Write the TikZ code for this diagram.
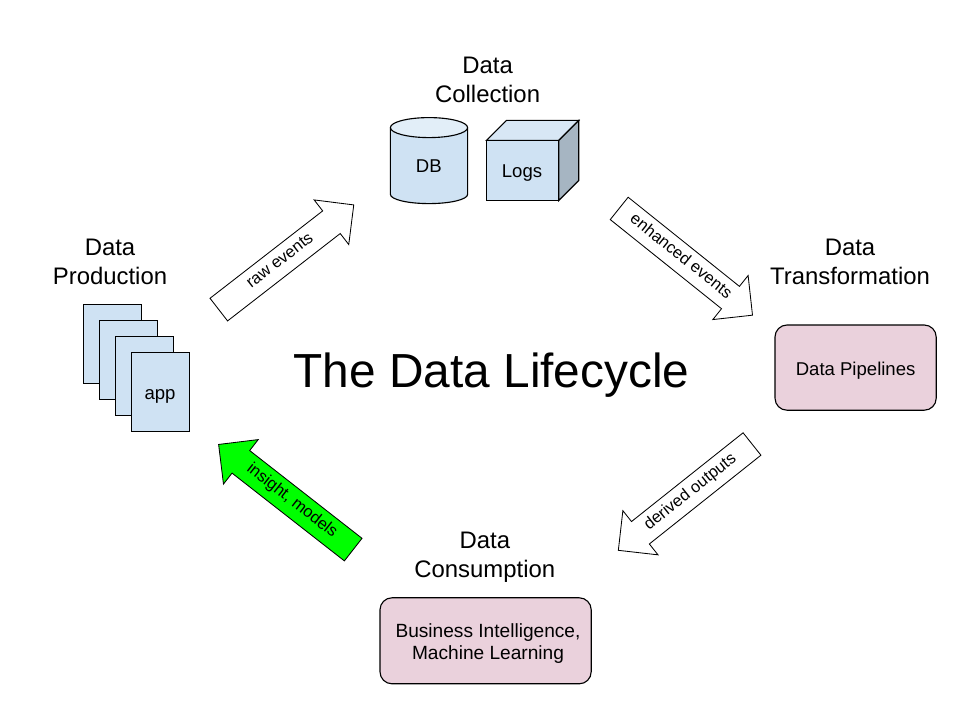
\documentclass[tikz,border=0pt]{standalone}
\usepackage{fontspec}
\setmainfont{Liberation Sans}
\usetikzlibrary{shapes.arrows}
\definecolor{boxblue}{HTML}{CFE2F3}
\definecolor{boxpink}{HTML}{EAD1DC}
\definecolor{sideblue}{HTML}{A6B5C2}
\definecolor{topblue}{HTML}{E2EEF8}
\definecolor{cubetop}{HTML}{D8E7F5}
\tikzset{
  heading/.style={align=center,font=\fontsize{17}{20.6}\selectfont},
  small/.style={font=\fontsize{13.2}{16}\selectfont},
  appbox/.style={draw,fill=boxblue,line width=0.8pt,minimum width=1.45cm,minimum height=1.975cm},
  pinkbox/.style={draw,fill=boxpink,line width=0.8pt,rounded corners=0.3cm,minimum height=2.13cm},
  flow/.style={single arrow,draw,fill=white,line width=0.6pt,inner xsep=0pt,inner ysep=0.1875cm,outer sep=0pt,
    text height=0.25cm,text depth=0.07cm,
    minimum width=1.39cm,minimum height=4.27cm,single arrow head extend=0.3475cm,
    font=\fontsize{11.7}{14}\selectfont}
}
\begin{document}
\begin{tikzpicture}
\useasboundingbox (0,0) rectangle (24,18);
\node (title) at (12.29,8.62) {\fontsize{34}{40}\selectfont The Data Lifecycle};
% headings
\node[heading] (collection) at (12.19,16) {Data\\Collection};
\node[heading] (production) at (2.75,11.46) {Data\\Production};
\node[heading] (transformation) at (21.25,11.46) {Data\\Transformation};
\node[heading] (consumption) at (12.12,4.07) {Data\\Consumption};
% stack of apps
\foreach \i/\x/\y in {1/2.81/9.4,2/3.21/9,3/3.61/8.6,4/4.01/8.2}
  \node[appbox] (app\i) at (\x,\y) {};
\node[small] (applabel) at (4,8.1) {app};
% database
\fill[boxblue] (9.76,14.81) -- (9.76,13.14) arc[start angle=180,end angle=360,x radius=0.965,y radius=0.23] -- (11.69,14.81) -- cycle;
\draw[line width=0.8pt] (9.76,14.81) -- (9.76,13.14) arc[start angle=180,end angle=360,x radius=0.965,y radius=0.23] -- (11.69,14.81);
\draw[line width=0.8pt,fill=topblue] (10.725,14.81) ellipse (0.965 and 0.25);
\node[small] (db) at (10.72,13.85) {DB};
% cube
\draw[line width=0.8pt,fill=cubetop] (12.16,14.49) -- (12.66,14.99) -- (14.47,14.99) -- (13.97,14.49) -- cycle;
\draw[line width=0.8pt,fill=sideblue] (13.97,14.49) -- (14.47,14.99) -- (14.47,13.49) -- (13.97,12.99) -- cycle;
\draw[line width=0.8pt,fill=boxblue] (12.16,12.99) rectangle (13.97,14.49);
\node[small] (logs) at (13.05,13.67) {Logs};
% boxes
\node[pinkbox,minimum width=4.03cm] (pipelines) at (21.39,8.81) {};
\node[small] (pipelinelabel) at (21.39,8.73) {Data Pipelines};
\node[pinkbox,minimum width=5.28cm,minimum height=2.15cm] (bi) at (12.14,1.98) {};
\node[align=center,font=\fontsize{13.6}{15.7}\selectfont] (bilabel) at (12.2,1.9) {Business Intelligence,\\Machine Learning};
% block arrows
\node[flow,rotate=37.8,anchor=tail] (raw) at (5.47,10.26) {raw events};
\node[flow,rotate=-38.7,anchor=tail] (enhanced) at (15.48,12.79) {enhanced events};
\node[flow,rotate=38.5,shape border rotate=180,anchor=tail] (derived) at (18.8,6.9) {derived outputs};
\node[flow,rotate=-38,shape border rotate=180,anchor=tail,fill=green] (insight) at (8.83,4.26) {insight, models};
\end{tikzpicture}
\end{document}
